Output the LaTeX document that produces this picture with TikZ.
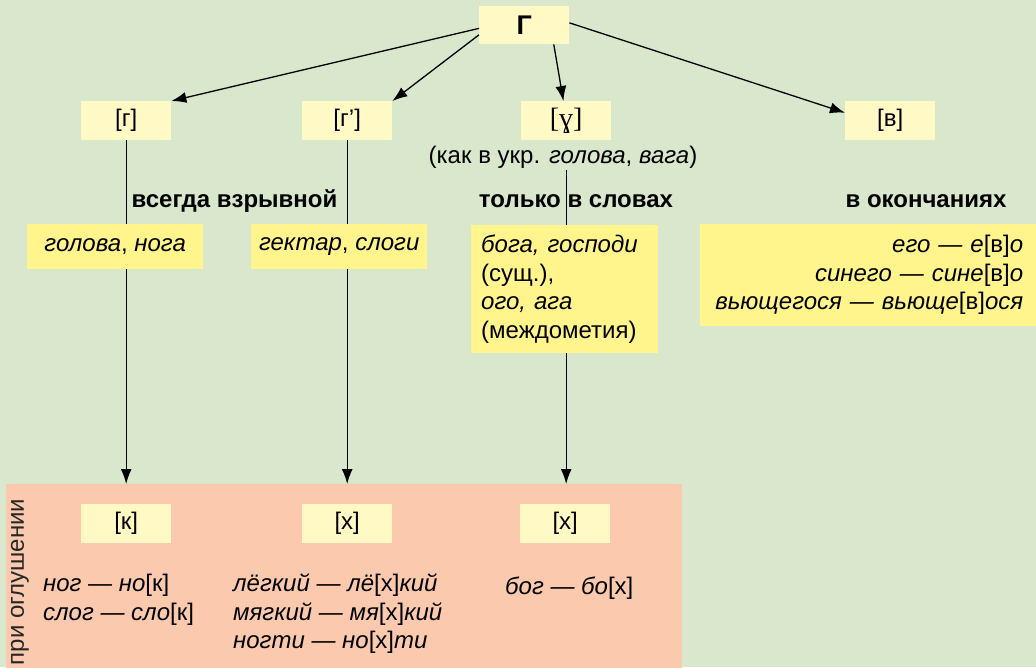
\documentclass[tikz,border=0pt]{standalone}
\usepackage{fontspec}
\setmainfont{Liberation Sans}
\newfontfamily\ipafont{Liberation Serif}
\usetikzlibrary{arrows.meta}

\definecolor{bgfill}{RGB}{217,231,205}
\definecolor{soundfill}{RGB}{255,249,198}
\definecolor{examplefill}{RGB}{255,245,140}
\definecolor{devoicefill}{RGB}{251,202,174}

\tikzset{
  every node/.style={inner sep=0pt, font=\fontsize{24}{28.5}\selectfont},
  sound/.style={fill=soundfill, minimum width=90pt, minimum height=39pt, anchor=north west},
  example/.style={fill=examplefill, anchor=north west},
  wordlist/.style={anchor=north west, align=left, execute at begin node=\strut},
  rule/.style={anchor=base, font=\fontsize{24}{28.5}\selectfont\bfseries},
  link/.style={line width=1.3pt, -{Latex[length=15pt,width=11pt]}},
}

\begin{document}
\begin{tikzpicture}[x=1pt,y=-1pt]
\useasboundingbox (0,0) rectangle (1036,667);
\fill[bgfill] (0,0) rectangle (1036,667);

% area of devoicing
\node[fill=devoicefill, anchor=north west, minimum width=676pt, minimum height=190pt] (dev) at (6,484) {};

% sounds
\node[sound, minimum height=38pt, font=\fontsize{27}{30}\selectfont\bfseries] (G) at (479,6) {Г};
\node[sound] (g) at (81,101) {[г]};
\node[sound] (gsoft) at (302,101) {[г’]};
\node[sound, font=\fontsize{28}{30}\ipafont] (gamma) at (521,101) {[ɣ]};
\node[sound] (v) at (845,101) {[в]};
\node[anchor=base] (ukr) at (563,163) {(как в укр. {\itshape голова}, {\itshape вага})};

\draw[link] (G.184) -- (g.north east);
\draw[link] (G.192) -- (gsoft.north east);
\draw[link] (G.327) -- (gamma.98);
\draw[link] (G.3) -- (v.170);

% lines down to the devoiced sounds
\draw[link] (g.south) -- (g.south |- dev.north);
\draw[link] (gsoft.south) -- (gsoft.south |- dev.north);
\draw[link] (gamma |- ukr.south) ++(0,2) -- (gamma.south |- dev.north);

\node[rule] (always) at (234.5,207) {всегда взрывной};
\node[rule] (only) at (576,207) {только в словах};
\node[rule] (endings) at (926,207) {в окончаниях};

% examples
\node[example, minimum width=176pt, minimum height=45pt] (exg) at (27,224) {{\itshape голова}, {\itshape нога}};
\node[example, minimum width=176pt, minimum height=45pt] (exgsoft) at (251,224) {{\itshape гектар}, {\itshape слоги}};
\node[example, align=left, text width=167pt, inner xsep=10pt, minimum height=128pt] (exgamma) at (471,225)
  {{\itshape бога, господи}\\(сущ.),\\{\itshape ого, ага}\\(междометия)};
\node[example, align=right, text width=310pt, inner xsep=13pt, minimum height=102pt] (exv) at (700,224)
  {{\itshape его — е}[в]{\itshape о}\\{\itshape синего — сине}[в]{\itshape о}\\{\itshape вьющегося — вьюще}[в]{\itshape ося}};

% devoiced
\node[sound] (k) at (81,504) {[к]};
\node[sound] (x) at (302,504) {[х]};
\node[sound] (xg) at (520,504) {[х]};
\node[rotate=90, text=black!85] (pri) at (20,582) {при оглушении};
\node[wordlist] (exk) at (43,574) {{\itshape ног — но}[к]\\{\itshape слог — сло}[к]};
\node[wordlist] (exx) at (233,574)
  {{\itshape лёгкий — лё}[х]{\itshape кий}\\{\itshape мягкий — мя}[х]{\itshape кий}\\{\itshape ногти — но}[х]{\itshape ти}};
\node[wordlist] (exxg) at (505,574) {{\itshape бог — бо}[х]};
\end{tikzpicture}
\end{document}
